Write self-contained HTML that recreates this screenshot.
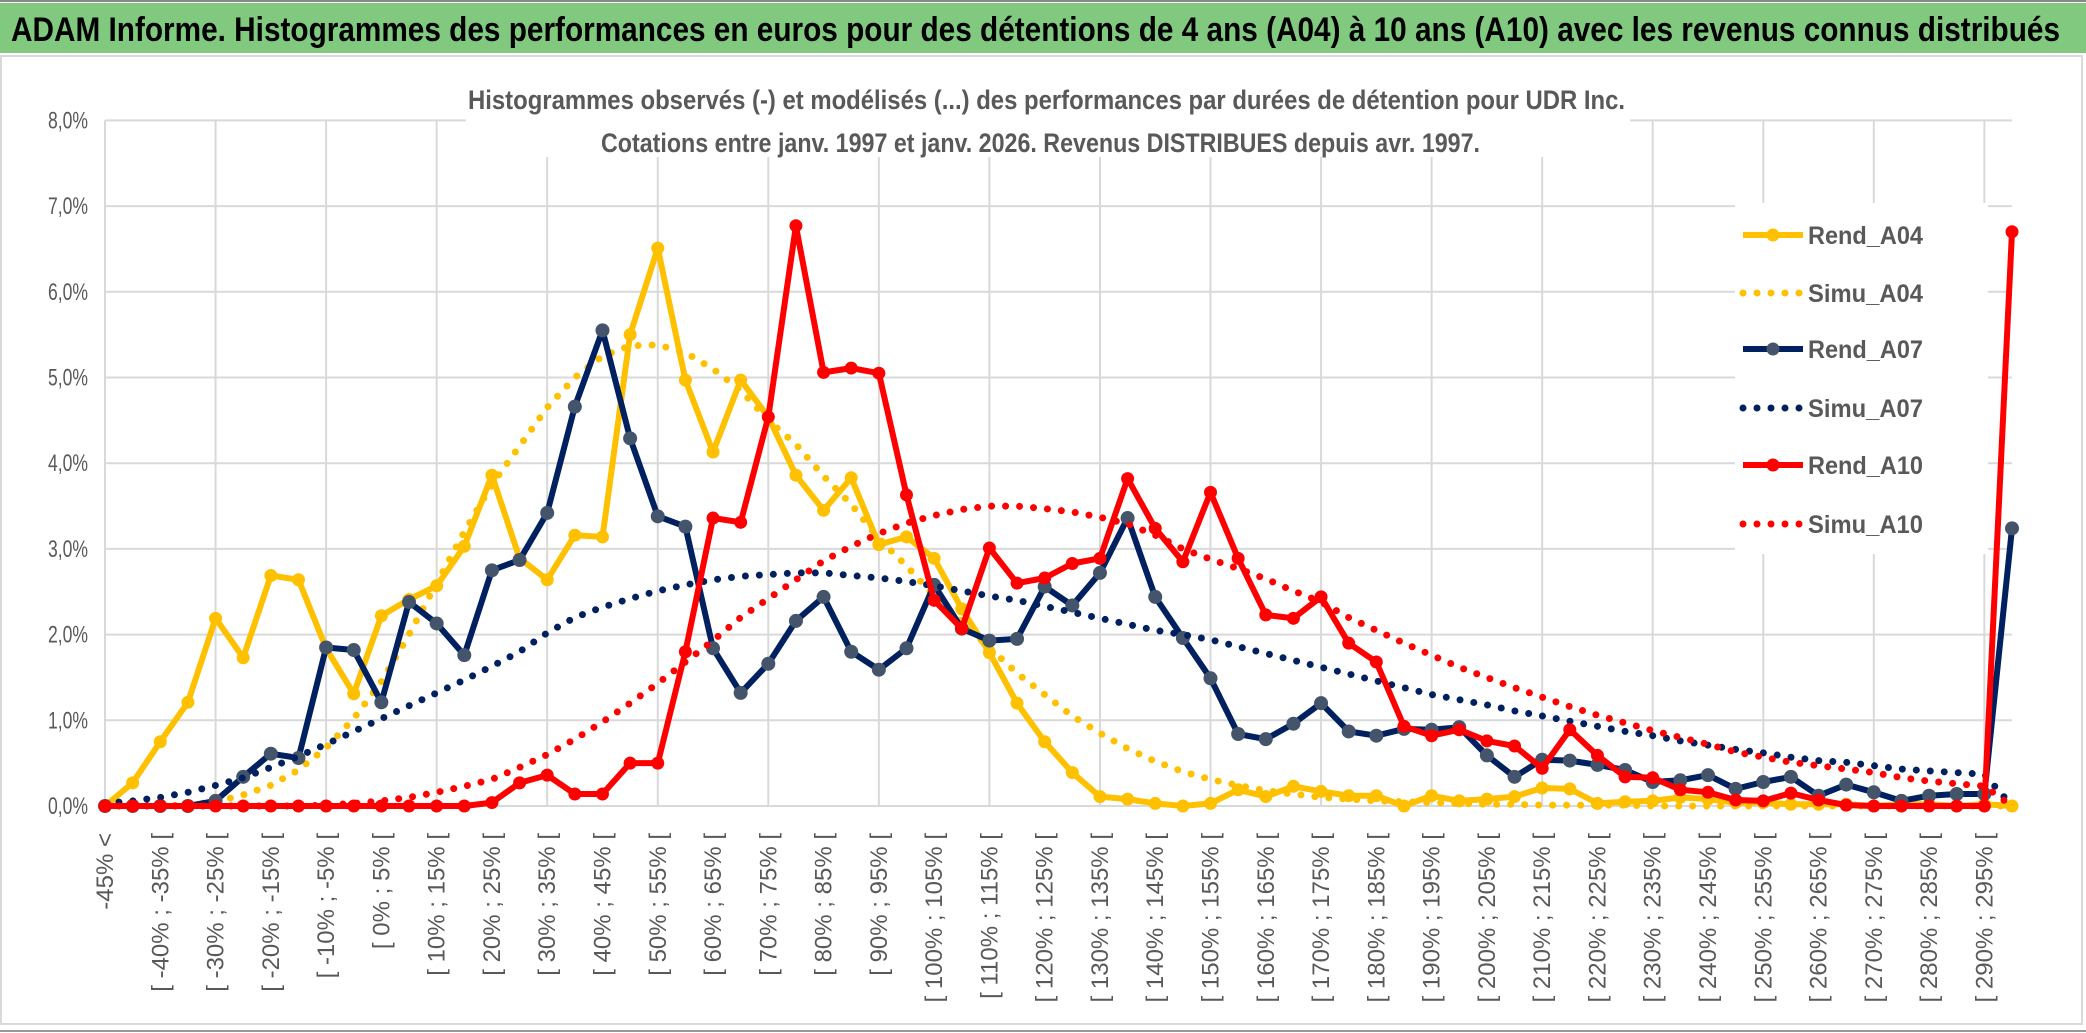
<!DOCTYPE html>
<html><head><meta charset="utf-8"><style>
html,body{margin:0;padding:0;background:#fff;}
svg{display:block;font-family:"Liberation Sans",sans-serif;}
</style></head><body>
<svg id="chart" width="2086" height="1033" viewBox="0 0 2086 1033" xmlns="http://www.w3.org/2000/svg">
<rect x="0" y="0" width="2086" height="1033" fill="#fff"/>
<line x1="0" y1="1" x2="2086" y2="1" stroke="#888" stroke-width="2"/>
<rect x="0" y="3" width="2086" height="50" fill="#80c97f"/>
<text x="11" y="41" font-size="34" font-weight="bold" fill="#000" textLength="2049" lengthAdjust="spacingAndGlyphs">ADAM Informe. Histogrammes des performances en euros pour des détentions de 4 ans (A04) à 10 ans (A10) avec les revenus connus distribués</text>
<rect x="1" y="56" width="2081" height="968" fill="none" stroke="#d9d9d9" stroke-width="2"/>
<line x1="0" y1="1031" x2="2086" y2="1031" stroke="#999" stroke-width="2"/>
<g id="grid"></g>
<rect x="466" y="60" width="1164" height="97" fill="#fff"/>
<text x="468" y="109" font-size="27" font-weight="bold" fill="#595959" textLength="1157" lengthAdjust="spacingAndGlyphs">Histogrammes observés (-) et modélisés (...) des performances par durées de détention pour UDR Inc.</text>
<text x="601" y="152" font-size="27" font-weight="bold" fill="#595959" textLength="879" lengthAdjust="spacingAndGlyphs">Cotations entre janv. 1997 et janv. 2026. Revenus DISTRIBUES depuis avr. 1997.</text>
<g id="yaxis"></g>
<g id="xaxis"></g>
<rect x="1735" y="203" width="253" height="351" fill="#fff"/>
<g id="series"></g>
<g id="legend"></g>
</svg>
<script>
const categories = ["-45% <","[ -45% ; -40% [","[ -40% ; -35% [","[ -35% ; -30% [","[ -30% ; -25% [","[ -25% ; -20% [","[ -20% ; -15% [","[ -15% ; -10% [","[ -10% ; -5% [","[ -5% ; 0% [","[ 0% ; 5% [","[ 5% ; 10% [","[ 10% ; 15% [","[ 15% ; 20% [","[ 20% ; 25% [","[ 25% ; 30% [","[ 30% ; 35% [","[ 35% ; 40% [","[ 40% ; 45% [","[ 45% ; 50% [","[ 50% ; 55% [","[ 55% ; 60% [","[ 60% ; 65% [","[ 65% ; 70% [","[ 70% ; 75% [","[ 75% ; 80% [","[ 80% ; 85% [","[ 85% ; 90% [","[ 90% ; 95% [","[ 95% ; 100% [","[ 100% ; 105% [","[ 105% ; 110% [","[ 110% ; 115% [","[ 115% ; 120% [","[ 120% ; 125% [","[ 125% ; 130% [","[ 130% ; 135% [","[ 135% ; 140% [","[ 140% ; 145% [","[ 145% ; 150% [","[ 150% ; 155% [","[ 155% ; 160% [","[ 160% ; 165% [","[ 165% ; 170% [","[ 170% ; 175% [","[ 175% ; 180% [","[ 180% ; 185% [","[ 185% ; 190% [","[ 190% ; 195% [","[ 195% ; 200% [","[ 200% ; 205% [","[ 205% ; 210% [","[ 210% ; 215% [","[ 215% ; 220% [","[ 220% ; 225% [","[ 225% ; 230% [","[ 230% ; 235% [","[ 235% ; 240% [","[ 240% ; 245% [","[ 245% ; 250% [","[ 250% ; 255% [","[ 255% ; 260% [","[ 260% ; 265% [","[ 265% ; 270% [","[ 270% ; 275% [","[ 275% ; 280% [","[ 280% ; 285% [","[ 285% ; 290% [","[ 290% ; 295% [","[ 295% ; 300% ["];
const yTicks = [0,1,2,3,4,5,6,7,8];
const yTickLabels = ["0,0%","1,0%","2,0%","3,0%","4,0%","5,0%","6,0%","7,0%","8,0%"];
const rendA04 = [0,0.27,0.75,1.21,2.19,1.73,2.69,2.64,1.84,1.31,2.22,2.41,2.57,3.03,3.86,2.89,2.64,3.16,3.14,5.50,6.51,4.97,4.13,4.97,4.54,3.86,3.45,3.83,3.05,3.14,2.89,2.3,1.79,1.2,0.75,0.39,0.11,0.08,0.03,0,0.03,0.19,0.11,0.23,0.17,0.12,0.12,0,0.12,0.06,0.08,0.11,0.21,0.2,0.03,0.05,0.06,0.1,0.08,0.04,0.04,0.02,0.02,0.02,0,0.02,0.02,0,0.02,0];
const simuA04 = [0,0,0,0.01,0.05,0.13,0.24,0.42,0.68,1.02,1.45,2.0,2.6,3.2,3.75,4.2,4.65,5.0,5.25,5.37,5.38,5.29,5.1,4.85,4.5,4.22,3.85,3.52,3.12,2.8,2.45,2.15,1.85,1.55,1.3,1.05,0.85,0.67,0.52,0.4,0.31,0.24,0.18,0.14,0.1,0.08,0.06,0.05,0.04,0.03,0.02,0.02,0.01,0.01,0.01,0.01,0,0,0,0,0,0,0,0,0,0,0,0,0,0];
const rendA07 = [0,0,0,0,0.06,0.34,0.61,0.56,1.85,1.82,1.21,2.38,2.13,1.76,2.75,2.87,3.42,4.66,5.55,4.29,3.38,3.26,1.84,1.32,1.66,2.16,2.44,1.8,1.59,1.84,2.58,2.07,1.93,1.95,2.56,2.34,2.72,3.36,2.44,1.96,1.49,0.84,0.78,0.96,1.2,0.87,0.82,0.9,0.89,0.92,0.59,0.34,0.54,0.53,0.48,0.42,0.28,0.3,0.36,0.2,0.28,0.34,0.12,0.25,0.16,0.06,0.12,0.14,0.14,3.24];
const simuA07 = [0.03,0.06,0.1,0.16,0.24,0.33,0.45,0.58,0.72,0.87,1.02,1.17,1.32,1.47,1.63,1.8,2.02,2.2,2.32,2.42,2.51,2.58,2.64,2.68,2.7,2.72,2.72,2.69,2.66,2.62,2.57,2.51,2.45,2.4,2.33,2.26,2.19,2.12,2.05,2.0,1.94,1.86,1.78,1.7,1.62,1.54,1.46,1.38,1.3,1.24,1.18,1.11,1.05,0.99,0.93,0.87,0.82,0.76,0.71,0.66,0.62,0.57,0.53,0.51,0.47,0.43,0.41,0.39,0.37,0];
const rendA10 = [0,0,0,0,0,0,0,0,0,0,0,0,0,0,0.04,0.27,0.36,0.14,0.14,0.5,0.5,1.8,3.36,3.31,4.54,6.77,5.06,5.11,5.05,3.63,2.4,2.07,3.01,2.6,2.66,2.83,2.89,3.82,3.24,2.85,3.66,2.89,2.23,2.19,2.44,1.9,1.68,0.93,0.82,0.89,0.76,0.7,0.44,0.89,0.59,0.34,0.33,0.19,0.16,0.07,0.06,0.15,0.07,0.01,0,0,0,0,0,6.7];
const simuA10 = [0,0,0,0,0,0,0,0,0.01,0.03,0.06,0.1,0.16,0.23,0.31,0.45,0.6,0.78,0.98,1.2,1.43,1.68,1.93,2.2,2.42,2.64,2.86,3.03,3.18,3.3,3.39,3.46,3.5,3.5,3.47,3.43,3.37,3.29,3.16,3.0,2.88,2.77,2.65,2.51,2.38,2.2,2.05,1.9,1.76,1.62,1.5,1.38,1.27,1.16,1.06,0.97,0.88,0.8,0.72,0.63,0.57,0.51,0.47,0.43,0.39,0.33,0.29,0.26,0.23,0];
const seriesNames = ["Rend_A04","Simu_A04","Rend_A07","Simu_A07","Rend_A10","Simu_A10"];

const NS = "http://www.w3.org/2000/svg";
const X0 = 105, X1 = 2012, Y0 = 806, YTOP = 120.4, YMAX = 8;
const n = categories.length;
function xPos(i){ return X0 + (X1 - X0) * i / (n - 1); }
function yPos(v){ return Y0 - (Y0 - YTOP) * v / YMAX; }
function mk(tag, attrs, parent){
  const e = document.createElementNS(NS, tag);
  for (const k in attrs) e.setAttribute(k, attrs[k]);
  parent.appendChild(e);
  return e;
}
const grid = document.getElementById('grid');
yTicks.forEach(function(t){
  const l = mk('line', {x1: X0, x2: X1, y1: yPos(t), y2: yPos(t), stroke: '#d9d9d9', 'stroke-width': 2}, grid);
  
  
});
for (let i = 0; i < n; i += 4) {
  const l = mk('line', {x1: xPos(i), x2: xPos(i), y1: YTOP, y2: Y0, stroke: '#d9d9d9', 'stroke-width': 2}, grid);
  
  
}
const yaxis = document.getElementById('yaxis');
yTicks.forEach(function(t, k){
  const tx = mk('text', {x: 48, y: yPos(t) + 8, 'font-size': 24, fill: '#595959', textLength: 40, lengthAdjust: 'spacingAndGlyphs'}, yaxis);
  tx.textContent = yTickLabels[k];
  
  
});
const xaxis = document.getElementById('xaxis');
for (let i = 0; i < n; i += 2) {
  const x = xPos(i) + 8;
  const tx = mk('text', {x: x, y: 833, 'font-size': 24, fill: '#595959', 'text-anchor': 'end', transform: 'rotate(-90 ' + x + ' 833)'}, xaxis);
  tx.textContent = categories[i];
  
  
}
const sg = document.getElementById('series');
function pts(arr){ return arr.map(function(v, i){ return xPos(i).toFixed(1) + ',' + yPos(v).toFixed(1); }).join(' '); }
function solid(arr, color, mcolor, r, name){
  const g = mk('g', {}, sg);
  
  
  const p = mk('polyline', {points: pts(arr), fill: 'none', stroke: color, 'stroke-width': 6, 'stroke-linejoin': 'round'}, g);
  
  
  arr.forEach(function(v, i){
    const c = mk('circle', {cx: xPos(i), cy: yPos(v), r: r, fill: mcolor}, g);
    
    
  });
}
function dotted(arr, color, name){
  const p = mk('polyline', {points: pts(arr), fill: 'none', stroke: color, 'stroke-width': 7, 'stroke-linecap': 'round', 'stroke-dasharray': '0 14'}, sg);
  
  
}
solid(rendA04, '#ffc000', '#ffc000', 6.5, 'rend-a04');
dotted(simuA04, '#ffc000', 'simu-a04');
solid(rendA07, '#002060', '#44546a', 7, 'rend-a07');
dotted(simuA07, '#002060', 'simu-a07');
solid(rendA10, '#ff0000', '#ff0000', 6.5, 'rend-a10');
dotted(simuA10, '#ff0000', 'simu-a10');

const lg = document.getElementById('legend');
const legColors = ['#ffc000','#ffc000','#002060','#002060','#ff0000','#ff0000'];
const legMarker = ['#ffc000',null,'#44546a',null,'#ff0000',null];
const legY = [235,293,349,408,465,524];
seriesNames.forEach(function(nm, k){
  const y = legY[k];
  const g = mk('g', {}, lg);
  
  
  if (legMarker[k]) {
    mk('line', {x1: 1743, x2: 1803, y1: y, y2: y, stroke: legColors[k], 'stroke-width': 6}, g);
    mk('circle', {cx: 1773, cy: y, r: 6.5, fill: legMarker[k]}, g);
  } else {
    mk('line', {x1: 1743, x2: 1803, y1: y, y2: y, stroke: legColors[k], 'stroke-width': 7, 'stroke-linecap': 'round', 'stroke-dasharray': '0 14'}, g);
  }
  const t = mk('text', {x: 1808, y: y + 9, 'font-size': 25, 'font-weight': 'bold', fill: '#595959', textLength: 115, lengthAdjust: 'spacingAndGlyphs'}, g);
  t.textContent = nm;
});
</script>
</body></html>
